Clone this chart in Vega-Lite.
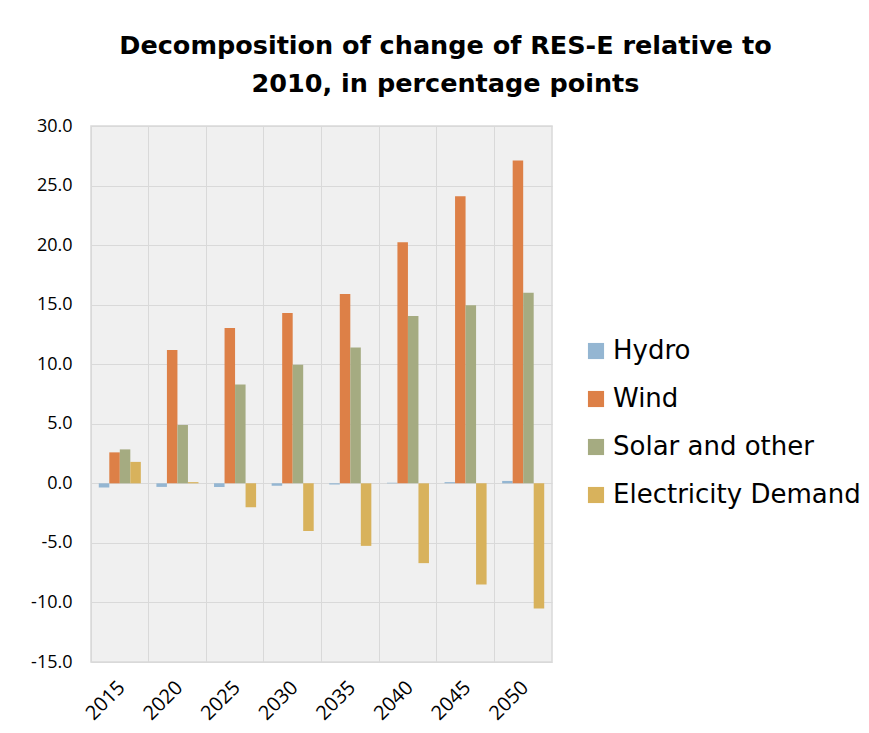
{
  "$schema": "https://vega.github.io/schema/vega-lite/v6.json",
  "width": 461,
  "height": 536,
  "autosize": {"type": "none"},
  "padding": {"left": 91, "top": 126, "right": 317, "bottom": 71},
  "background": "white",
  "title": {
    "text": ["Decomposition of change of RES-E relative to", "2010, in percentage points"],
    "font": "DejaVu Sans",
    "fontSize": 25.5,
    "fontWeight": "bold",
    "color": "#000000",
    "anchor": "middle",
    "dx": 124,
    "offset": 20,
    "lineHeight": 38
  },
  "data": {
    "values": [
      {"year": "2015", "source": "Hydro", "value": -0.35},
      {"year": "2015", "source": "Wind", "value": 2.6},
      {"year": "2015", "source": "Solar and other", "value": 2.85},
      {"year": "2015", "source": "Electricity Demand", "value": 1.8},
      {"year": "2020", "source": "Hydro", "value": -0.3},
      {"year": "2020", "source": "Wind", "value": 11.2},
      {"year": "2020", "source": "Solar and other", "value": 4.9},
      {"year": "2020", "source": "Electricity Demand", "value": 0.1},
      {"year": "2025", "source": "Hydro", "value": -0.3},
      {"year": "2025", "source": "Wind", "value": 13.05},
      {"year": "2025", "source": "Solar and other", "value": 8.3},
      {"year": "2025", "source": "Electricity Demand", "value": -2.0},
      {"year": "2030", "source": "Hydro", "value": -0.2},
      {"year": "2030", "source": "Wind", "value": 14.3},
      {"year": "2030", "source": "Solar and other", "value": 9.95},
      {"year": "2030", "source": "Electricity Demand", "value": -4.0},
      {"year": "2035", "source": "Hydro", "value": -0.1},
      {"year": "2035", "source": "Wind", "value": 15.9},
      {"year": "2035", "source": "Solar and other", "value": 11.4},
      {"year": "2035", "source": "Electricity Demand", "value": -5.25},
      {"year": "2040", "source": "Hydro", "value": 0.05},
      {"year": "2040", "source": "Wind", "value": 20.25},
      {"year": "2040", "source": "Solar and other", "value": 14.05},
      {"year": "2040", "source": "Electricity Demand", "value": -6.7},
      {"year": "2045", "source": "Hydro", "value": 0.1},
      {"year": "2045", "source": "Wind", "value": 24.1},
      {"year": "2045", "source": "Solar and other", "value": 14.95},
      {"year": "2045", "source": "Electricity Demand", "value": -8.5},
      {"year": "2050", "source": "Hydro", "value": 0.2},
      {"year": "2050", "source": "Wind", "value": 27.1},
      {"year": "2050", "source": "Solar and other", "value": 16.0},
      {"year": "2050", "source": "Electricity Demand", "value": -10.5}
    ]
  },
  "mark": {"type": "bar"},
  "encoding": {
    "x": {
      "field": "year",
      "type": "nominal",
      "scale": {"paddingInner": 0, "paddingOuter": 0},
      "axis": {
        "title": null,
        "labelAngle": -45,
        "labelFont": "Open Sans",
        "labelFontSize": 20,
        "labelColor": "#000000",
        "labelPadding": 15,
        "labelOffset": -5,
        "ticks": false,
        "domain": false,
        "grid": true,
        "gridColor": "#d9d9d9",
        "gridWidth": 1,
        "bandPosition": 0
      }
    },
    "xOffset": {
      "field": "source",
      "type": "nominal",
      "sort": ["Hydro", "Wind", "Solar and other", "Electricity Demand"],
      "scale": {"paddingInner": 0, "paddingOuter": 0.74}
    },
    "y": {
      "field": "value",
      "type": "quantitative",
      "scale": {"domain": [-15, 30], "nice": false, "zero": false},
      "axis": {
        "title": null,
        "values": [-15, -10, -5, 0, 5, 10, 15, 20, 25, 30],
        "format": ".1f",
        "labelExpr": "replace(datum.label, '\u2212', '-')",
        "labelFont": "Open Sans",
        "labelFontSize": 18,
        "labelColor": "#000000",
        "labelPadding": 19,
        "ticks": false,
        "domain": false,
        "grid": true,
        "gridColor": "#d9d9d9",
        "gridWidth": 1
      }
    },
    "color": {
      "field": "source",
      "type": "nominal",
      "sort": ["Hydro", "Wind", "Solar and other", "Electricity Demand"],
      "scale": {
        "domain": ["Hydro", "Wind", "Solar and other", "Electricity Demand"],
        "range": ["#94B6D2", "#DD8047", "#A5AB81", "#D8B25C"]
      },
      "legend": {
        "title": null,
        "orient": "none",
        "legendX": 492,
        "legendY": 212,
        "symbolType": "square",
        "symbolSize": 260,
        "symbolStrokeWidth": 0,
        "symbolOpacity": 1,
        "labelFont": "DejaVu Sans",
        "labelFontSize": 26,
        "labelColor": "#000000",
        "labelOffset": 4,
        "rowPadding": 22,
        "labelLimit": 400
      }
    }
  },
  "config": {
    "view": {"fill": "#f0f0f0", "stroke": "#d9d9d9", "strokeWidth": 1.5}
  }
}
